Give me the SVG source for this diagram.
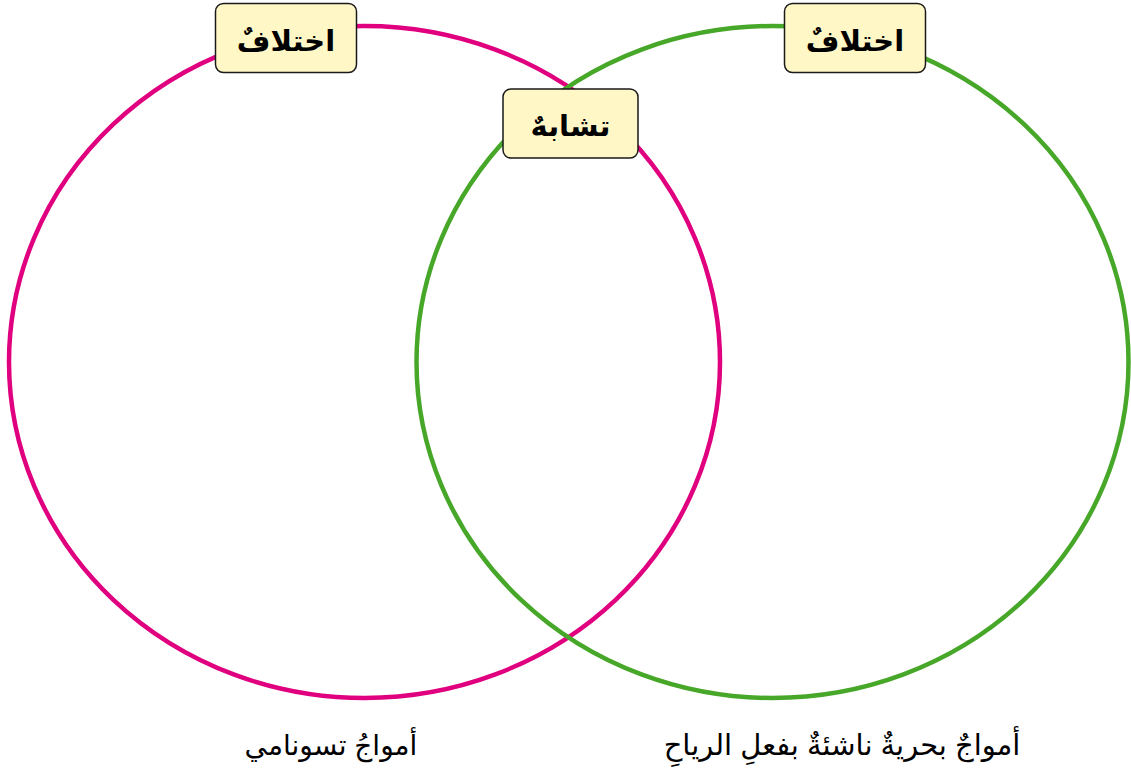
<svg xmlns="http://www.w3.org/2000/svg" width="1131" height="774" viewBox="0 0 1131 774">
<style>
.ring{fill:none;stroke-width:4.5}
.box{fill:#fff7c6;stroke:#1a1a1a;stroke-width:1.5}
.lbl{font-family:"Liberation Sans","DejaVu Sans",sans-serif;font-weight:bold;font-size:29px;fill:#000;text-anchor:middle}
.cap{font-family:"Liberation Sans","DejaVu Sans",sans-serif;font-size:28px;fill:#000;text-anchor:middle}
</style>
<rect width="1131" height="774" fill="#fff"/>
<g id="connectors">
<ellipse id="ring-tsunami" class="ring" cx="364.5" cy="362" rx="355.5" ry="336" stroke="#e0007f"/>
<ellipse id="ring-wind" class="ring" cx="772.5" cy="362" rx="356" ry="336" stroke="#47a729"/>
</g>
<g id="node-diff-left">
<rect class="box" x="215.5" y="3.5" width="141" height="69" rx="8"/>
<text class="lbl" x="286" y="51" direction="rtl">اختلافٌ</text>
</g>
<g id="node-similar">
<rect class="box" x="503" y="89" width="135" height="69" rx="8"/>
<text class="lbl" x="570.5" y="136" direction="rtl">تشابهٌ</text>
</g>
<g id="node-diff-right">
<rect class="box" x="784.5" y="3.5" width="141" height="69" rx="8"/>
<text class="lbl" x="855" y="51" direction="rtl">اختلافٌ</text>
</g>
<g id="caption-left">
<text class="cap" x="331" y="755" direction="rtl">أمواجُ تسونامي</text>
</g>
<g id="caption-right">
<text class="cap" x="842" y="755" direction="rtl" style="font-size:29px">أمواجٌ بحريةٌ ناشئةٌ بفعلِ الرياحِ</text>
</g>
</svg>
